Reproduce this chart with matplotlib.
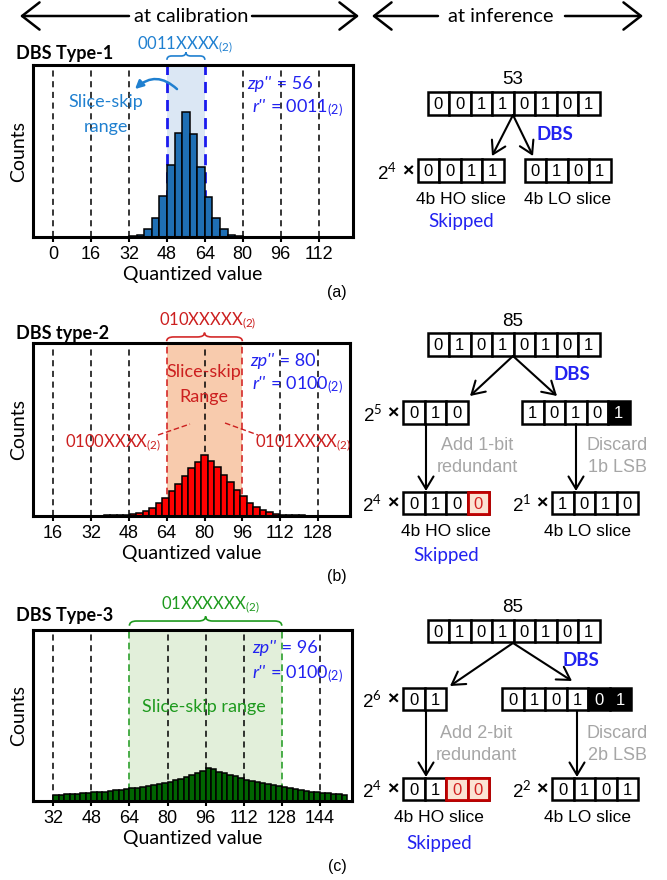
import matplotlib
matplotlib.use('Agg')
import matplotlib.pyplot as plt
from matplotlib.path import Path
from matplotlib.patches import PathPatch, Rectangle, FancyArrowPatch
import matplotlib.transforms as mtransforms
import numpy as np

plt.rcParams['font.family'] = ['Liberation Sans', 'DejaVu Sans']
plt.rcParams['mathtext.fontset'] = 'custom'
plt.rcParams['mathtext.rm'] = 'Lato'
plt.rcParams['mathtext.it'] = 'Lato:italic'
plt.rcParams['mathtext.bf'] = 'Lato:bold'
CAL = 'Lato'

# --- histogram data ---
a_start, a_width = 32.0, 3.2
a_counts = [2, 7, 25, 57, 120, 212, 308, 370, 305, 207, 118, 55, 23, 7, 2]
a_ticks = [0, 16, 32, 48, 64, 80, 96, 112]

b_start, b_width = 20.9, 2.75
b_counts = [0.5, 0.5, 0.7, 0.8, 1, 1.2, 1.5, 2, 2.5, 3, 5, 8, 15, 25, 38, 55, 75, 96,
            120, 143, 161, 181, 165, 146, 123, 100, 78, 60, 40, 28, 18, 11, 6, 4,
            2.5, 2, 1.5, 1.2, 1, 0.8, 0.7, 0.5, 0.5, 0.4]
b_ticks = [16, 32, 48, 64, 80, 96, 112, 128]

c_start, c_width = 32.0, 16 / 7
c_counts = [6.0, 6.3, 6.6, 7.0, 7.4, 7.8, 8.2, 8.6, 9.0, 9.5, 10.0, 10.6, 11.3, 12.0,
            12.7, 13.4, 14.2, 15.0, 16.0, 17.0, 18.2, 19.4, 20.8, 22.3, 24.0, 25.8,
            27.8, 30.0, 33.5, 32.0, 29.5, 28.0, 26.5, 24.8, 23.0, 21.6, 20.3, 19.0,
            17.8, 16.7, 15.6, 14.6, 13.6, 12.6, 11.7, 10.9, 10.1, 9.4, 8.8, 8.2, 7.6,
            7.1, 6.6, 6.2]
c_ticks = [32, 48, 64, 80, 96, 112, 128, 144]

# --- bit strings for the right-hand diagrams ---
a_value, a_bits, a_ho, a_lo = 53, "00110101", "0011", "0101"
b_value, b_bits, b_ho_mid, b_lo_mid, b_ho, b_lo = 85, "01010101", "010", "10101", "0100", "1010"
c_value, c_bits, c_ho_mid, c_lo_mid, c_ho, c_lo = 85, "01010101", "01", "010101", "0100", "0101"

W, H = 667, 880
fig = plt.figure(figsize=(W / 100, H / 100), dpi=100)


def px_axes(l, t, r, b):
    return fig.add_axes([l / W, 1 - b / H, (r - l) / W, (b - t) / H])


def histo(ax, start, width, counts, ticks, xlim, ylim, lo, hi, shade, lcol, llw, bar_col):
    ax.axvspan(lo, hi, color=shade, zorder=0, lw=0)
    for t in ticks:
        if t in (lo, hi):
            continue
        ax.axvline(t, color='black', ls=(0, (4, 3)), lw=1.1, zorder=1)
    for t in (lo, hi):
        ax.axvline(t, color=lcol, ls=(0, (4, 2.5)), lw=llw, zorder=1)
    x = start + width * np.arange(len(counts))
    ax.bar(x, counts, width=width, align='edge', color=bar_col, edgecolor='black',
           lw=1.1, zorder=2)
    ax.set_xlim(*xlim)
    ax.set_ylim(0, ylim)
    ax.set_xticks(ticks)
    ax.set_yticks([])
    ax.tick_params(axis='x', length=3.5, width=1.5, labelsize=13, pad=3)
    for s in ax.spines.values():
        s.set_linewidth(2.2)
    ax.set_xlabel('Quantized value', fontfamily=CAL, fontsize=14, labelpad=2)
    ax.set_ylabel('Counts', fontfamily=CAL, fontsize=14, labelpad=4)


ax_a = px_axes(33, 65, 353, 237)
histo(ax_a, a_start, a_width, a_counts, a_ticks, (-8.5, 126.5), 508, 48, 64,
      '#dbe7f4', '#1a1aee', 2.0, '#1f6fb4')
ax_b = px_axes(33, 343, 350, 516)
histo(ax_b, b_start, b_width, b_counts, b_ticks, (7.5, 141.5), 515, 64, 96,
      '#f8cbad', '#d42a2a', 1.2, '#ff0000')
ax_c = px_axes(33, 630, 352, 801)
histo(ax_c, c_start, c_width, c_counts, c_ticks, (23.5, 157.5), 172, 64, 128,
      '#e2efda', '#2ca02c', 1.2, '#006400')


def brace(ax, x0, x1, yb, ht, color, lw=1.2):
    tr = mtransforms.blended_transform_factory(ax.transData, ax.transAxes)
    xm = (x0 + x1) / 2
    q = min(3.0, (x1 - x0) / 8)
    ym = yb + ht / 2
    yt = yb + ht
    verts = [(x0, yb), (x0, ym), (x0 + q, ym), (xm - q, ym), (xm, ym), (xm, yt),
             (xm, ym), (xm + q, ym), (x1 - q, ym), (x1, ym), (x1, yb)]
    codes = [Path.MOVETO, Path.CURVE3, Path.CURVE3, Path.LINETO, Path.CURVE3, Path.CURVE3,
             Path.CURVE3, Path.CURVE3, Path.LINETO, Path.CURVE3, Path.CURVE3]
    ax.add_patch(PathPatch(Path(verts, codes), transform=tr, fill=False, ec=color,
                           lw=lw, clip_on=False))


brace(ax_a, 48, 64, 1.03, 0.045, '#2080d0')
brace(ax_b, 64, 96, 1.01, 0.05, '#d42a2a')
brace(ax_c, 64, 128, 1.025, 0.055, '#1e9a1e')

# overlay in pixel coordinates (y down)
ov = fig.add_axes([0, 0, 1, 1], zorder=10)
ov.set_xlim(0, W)
ov.set_ylim(H, 0)
ov.axis('off')
renderer = fig.canvas.get_renderer()

# top headers
arr_big = dict(arrowstyle='->,head_length=0.45,head_width=0.35', lw=1.8, color='black',
               mutation_scale=28, shrinkA=0, shrinkB=0)
ov.text(191, 16, 'at calibration', ha='center', va='center', fontfamily=CAL, fontsize=14.5)
ov.annotate('', xy=(20, 16), xytext=(129, 16), arrowprops=arr_big)
ov.annotate('', xy=(359, 16), xytext=(252, 16), arrowprops=arr_big)
ov.text(501, 16, 'at inference', ha='center', va='center', fontfamily=CAL, fontsize=14.5)
ov.annotate('', xy=(372, 16), xytext=(438, 16), arrowprops=arr_big)
ov.annotate('', xy=(643, 16), xytext=(565, 16), arrowprops=arr_big)

# panel titles and labels
for y, s in [(53, 'DBS Type-1'), (333, 'DBS type-2'), (615, 'DBS Type-3')]:
    ov.text(16, y, s, ha='left', va='center', fontfamily=CAL, fontweight='bold', fontsize=13)
for y, s in [(293, '(a)'), (577, '(b)'), (866, '(c)')]:
    ov.text(337, y, s, ha='center', va='center', fontsize=11.5)

SB = '#2080d0'
BL = '#2222f0'
RD = '#cc1f1f'
GR = '#1e9a1e'
GY = '#a6a6a6'
sub2 = r'$_{\mathrm{(2)}}$'


def zp_text(x, y, name, rest):
    # italic variable name followed by upright value, on one baseline
    t = ov.text(x, y, name, ha='left', va='baseline', fontfamily=CAL, fontsize=13,
                style='italic', color=BL)
    x1 = t.get_window_extent(renderer).x1
    ov.text(x1 + 1, y, rest, ha='left', va='baseline', fontfamily=CAL, fontsize=13, color=BL)


# (a) annotations
ov.text(185, 45, '0011XXXX' + sub2, ha='center', va='center', fontfamily=CAL, fontsize=12, color=SB)
ov.text(106, 102, 'Slice-skip', ha='center', va='center', fontfamily=CAL, fontsize=13, color=SB)
ov.text(106, 127, 'range', ha='center', va='center', fontfamily=CAL, fontsize=13, color=SB)
ov.add_patch(FancyArrowPatch((179, 91), (133, 91), connectionstyle='arc3,rad=0.5',
                             arrowstyle='-|>', mutation_scale=12, color=SB, lw=1.8))
zp_text(247, 89, "zp''", ' = 56')
zp_text(252, 112, "r''", ' = 0011' + sub2)

# (b) annotations
ov.text(208, 321, '010XXXXX' + sub2, ha='center', va='center', fontfamily=CAL, fontsize=12, color=RD)
ov.text(204, 372, 'Slice-skip', ha='center', va='center', fontfamily=CAL, fontsize=13, color=RD)
ov.text(204, 397, 'Range', ha='center', va='center', fontfamily=CAL, fontsize=13, color=RD)
ov.text(113, 443, '0100XXXX' + sub2, ha='center', va='center', fontfamily=CAL, fontsize=12, color=RD)
ov.text(303, 443, '0101XXXX' + sub2, ha='center', va='center', fontfamily=CAL, fontsize=12, color=RD)
ov.plot([158, 190], [435, 424], color=RD, lw=1, ls=(0, (4, 2)))
ov.plot([225, 258], [423, 435], color=RD, lw=1, ls=(0, (4, 2)))
zp_text(250, 366, "zp''", ' = 80')
zp_text(252, 389, "r''", ' = 0100' + sub2)

# (c) annotations
ov.text(210, 605, '01XXXXXX' + sub2, ha='center', va='center', fontfamily=CAL, fontsize=12, color=GR)
ov.text(204, 707, 'Slice-skip range', ha='center', va='center', fontfamily=CAL, fontsize=13, color=GR)
zp_text(252, 653, "zp''", ' = 96')
zp_text(252, 678, "r''", ' = 0100' + sub2)

# --- bit diagrams ---
BW, BH = 21.5, 22.5


def bits_row(x0, y0, bits, black=0, red=0):
    n = len(bits)
    for i, b in enumerate(bits):
        x = x0 + i * BW
        if i >= n - black:
            fc, tc = 'black', 'white'
        else:
            fc, tc = 'white', 'black'
        ov.add_patch(Rectangle((x, y0), BW, BH, fc=fc, ec='black', lw=1.8, zorder=2))
        if i >= n - red:
            tc = '#d02020'
        ov.text(x + BW / 2, y0 + BH / 2 + 1, b, ha='center', va='center', fontsize=12, color=tc, zorder=4)
    for i in range(n - red, n):
        ov.add_patch(Rectangle((x0 + i * BW, y0), BW, BH, fc='#fbe3d3', ec='#c00000', lw=2, zorder=3))


def scale(x0, y0, e):
    ov.text(x0 - 21, y0 + BH / 2 + 2, '2$^{%d}$' % e, ha='right', va='center', fontsize=13.5)
    ov.text(x0 - 10, y0 + BH / 2 + 1, '×', ha='center', va='center', fontsize=14, fontweight='bold')


arr = dict(arrowstyle='->,head_length=0.5,head_width=0.3', lw=1.5, color='black',
           mutation_scale=18, shrinkA=0, shrinkB=0)


def arrow(p0, p1):
    ov.annotate('', xy=p1, xytext=p0, arrowprops=arr)


# (a)
ov.text(513, 79, str(a_value), ha='center', va='center', fontsize=13.5)
bits_row(427.5, 92.5, a_bits)
arrow((513, 115), (492, 156))
arrow((513, 115), (533, 156))
ov.text(555, 134, 'DBS', ha='center', va='center', fontfamily=CAL, fontweight='bold', fontsize=13.5, color=BL)
bits_row(417.5, 159.5, a_ho)
scale(417.5, 159.5, 4)
bits_row(524.5, 159.5, a_lo)
ov.text(461, 199, '4b HO slice', ha='center', va='center', fontsize=12.5)
ov.text(567, 199, '4b LO slice', ha='center', va='center', fontsize=12.5)
ov.text(461, 222, 'Skipped', ha='center', va='center', fontfamily=CAL, fontsize=13.5, color=BL)

# (b)
ov.text(513, 322, str(b_value), ha='center', va='center', fontsize=13.5)
bits_row(427.5, 333.5, b_bits)
arrow((513, 356), (470, 396))
arrow((513, 356), (557, 396))
ov.text(572, 375, 'DBS', ha='center', va='center', fontfamily=CAL, fontweight='bold', fontsize=13.5, color=BL)
bits_row(403, 401.5, b_ho_mid)
scale(403, 401.5, 5)
bits_row(522, 401.5, b_lo_mid, black=1)
arrow((426, 424), (426, 491))
arrow((576, 424), (576, 491))
ov.text(477, 445, 'Add 1-bit', ha='center', va='center', fontsize=13, color=GY)
ov.text(477, 467, 'redundant', ha='center', va='center', fontsize=13, color=GY)
ov.text(617, 445, 'Discard', ha='center', va='center', fontsize=13, color=GY)
ov.text(617, 467, '1b LSB', ha='center', va='center', fontsize=13, color=GY)
bits_row(403, 492, b_ho, red=1)
scale(403, 492, 4)
bits_row(552, 492, b_lo)
scale(552, 492, 1)
ov.text(446, 531, '4b HO slice', ha='center', va='center', fontsize=12.5)
ov.text(587, 531, '4b LO slice', ha='center', va='center', fontsize=12.5)
ov.text(446, 555, 'Skipped', ha='center', va='center', fontfamily=CAL, fontsize=13.5, color=BL)

# (c)
ov.text(513, 607, str(c_value), ha='center', va='center', fontsize=13.5)
bits_row(427.5, 620, c_bits)
arrow((513, 643), (450, 686))
arrow((513, 643), (572, 681))
ov.text(581, 660, 'DBS', ha='center', va='center', fontfamily=CAL, fontweight='bold', fontsize=13.5, color=BL)
bits_row(403, 688, c_ho_mid)
scale(403, 688, 6)
bits_row(502, 688, c_lo_mid, black=2)
arrow((426, 711), (426, 777))
arrow((577, 711), (577, 777))
ov.text(476, 733, 'Add 2-bit', ha='center', va='center', fontsize=13, color=GY)
ov.text(476, 755, 'redundant', ha='center', va='center', fontsize=13, color=GY)
ov.text(617, 733, 'Discard', ha='center', va='center', fontsize=13, color=GY)
ov.text(617, 755, '2b LSB', ha='center', va='center', fontsize=13, color=GY)
bits_row(403, 778, c_ho, red=2)
scale(403, 778, 4)
bits_row(552, 778, c_lo)
scale(552, 778, 2)
ov.text(439, 818, '4b HO slice', ha='center', va='center', fontsize=12.5)
ov.text(588, 818, '4b LO slice', ha='center', va='center', fontsize=12.5)
ov.text(439, 843, 'Skipped', ha='center', va='center', fontfamily=CAL, fontsize=13.5, color=BL)

fig.savefig('out.png', dpi=100)
